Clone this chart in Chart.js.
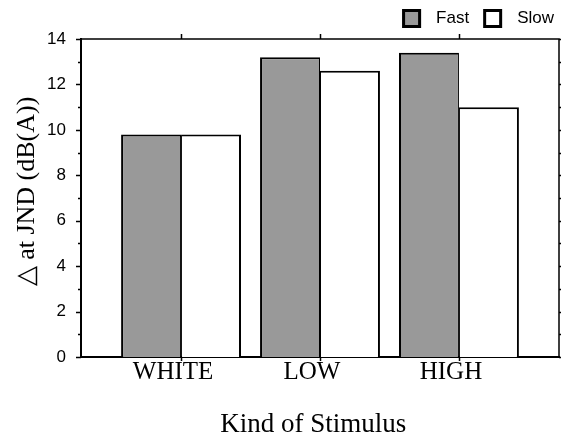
<!DOCTYPE html>
<html lang="en">
<head>
  <meta charset="UTF-8">
  <title>JND by stimulus</title>
  <script src="https://cdn.jsdelivr.net/npm/chart.js"></script>
  <style>
    body { margin: 0; background: #fff; }
    .grafico { width: 561px; height: 437px; }
  </style>
</head>
<body>
  <div class="grafico"><canvas id="id_grafico"></canvas></div>

  <script>
    // dados
    const categorias = ['WHITE', 'LOW', 'HIGH'];
    const posicoes = [1, 2, 3];
    const series = ['Fast', 'Slow'];
    const valoresFast = [9.8, 13.2, 13.4];
    const valoresSlow = [9.8, 12.6, 11.0];
    const yMin = 0;
    const yMax = 14;

    const serif = 'Liberation Serif';
    const sans = 'Liberation Sans';

    // moldura, ticks e legenda
    const moldura = {
      id: 'moldura',
      afterDraw(chart) {
        const ctx = chart.ctx;
        const a = chart.chartArea;
        const xs = chart.scales.x;
        const ys = chart.scales.y;
        ctx.save();
        ctx.strokeStyle = '#000';

        ctx.lineWidth = 1.5;
        ctx.beginPath();
        ctx.moveTo(a.left, a.top);
        ctx.lineTo(a.right, a.top);
        ctx.lineTo(a.right, a.bottom);
        ctx.stroke();

        ys.ticks.forEach(t => {
          const y = Math.round(ys.getPixelForValue(t.value)) + 0.5;
          const len = t.value % 2 === 0 ? 5 : 3;
          ctx.beginPath();
          ctx.moveTo(a.left - len, y);
          ctx.lineTo(a.left, y);
          ctx.moveTo(a.right, y);
          ctx.lineTo(a.right + 3, y);
          ctx.stroke();
        });
        xs.ticks.forEach(t => {
          const x = Math.round(xs.getPixelForValue(t.value)) + 0.5;
          ctx.beginPath();
          ctx.moveTo(x, a.top - 5);
          ctx.lineTo(x, a.top);
          ctx.moveTo(x, a.bottom);
          ctx.lineTo(x, a.bottom + 4);
          ctx.stroke();
        });

        // legenda
        ctx.font = '17px "' + sans + '"';
        ctx.textBaseline = 'middle';
        const caixa = 19, gapTxt = 15, gapItem = 14;
        const ds = chart.data.datasets;
        let total = 0;
        ds.forEach((d, i) => {
          total += caixa + gapTxt + ctx.measureText(d.label).width + (i < ds.length - 1 ? gapItem : 0);
        });
        let x = chart.width - 7 - total;
        const yc = 18.5;
        ds.forEach(d => {
          ctx.fillStyle = d.backgroundColor;
          ctx.fillRect(x, yc - caixa / 2, caixa, caixa);
          ctx.lineWidth = 3;
          ctx.strokeRect(x + 1.5, yc - caixa / 2 + 1.5, caixa - 3, caixa - 3);
          ctx.fillStyle = '#000';
          ctx.fillText(d.label, x + caixa + gapTxt, yc);
          x += caixa + gapTxt + ctx.measureText(d.label).width + gapItem;
        });
        ctx.restore();
      }
    };

    const ctx = document.getElementById('id_grafico').getContext('2d');
    const grafico = new Chart(ctx, {
      type: 'bar',
      data: {
        datasets: [
          {
            label: series[0],
            data: posicoes.map((p, i) => ({ x: p, y: valoresFast[i] })),
            backgroundColor: '#999999',
            borderColor: '#000',
            borderWidth: { top: 2, left: 2, right: 1, bottom: 0 }
          },
          {
            label: series[1],
            data: posicoes.map((p, i) => ({ x: p, y: valoresSlow[i] })),
            backgroundColor: '#ffffff',
            borderColor: '#000',
            borderWidth: { top: 2, left: 1, right: 2, bottom: 0 }
          }
        ]
      },
      options: {
        responsive: true,
        maintainAspectRatio: false,
        animation: false,
        categoryPercentage: 0.863,
        barPercentage: 1,
        layout: { padding: { top: 39, right: 2, left: 0, bottom: 0 } },
        plugins: {
          legend: { display: false },
          tooltip: { enabled: false }
        },
        scales: {
          x: {
            type: 'linear',
            min: 1 - 0.72,
            max: 3 + 0.72,
            offset: false,
            grid: { display: false, drawTicks: false, offset: false },
            border: { display: true, color: '#000', width: 2 },
            afterBuildTicks: s => { s.ticks = posicoes.map(v => ({ value: v })); },
            afterFit: s => { s.height = 80; },
            ticks: {
              autoSkip: false,
              maxRotation: 0,
              padding: 0,
              labelOffset: -8,
              color: '#000',
              font: { family: serif, size: 25 },
              callback: v => categorias[posicoes.indexOf(v)] ?? ''
            },
            title: {
              display: true,
              text: 'Kind of Stimulus  ',
              color: '#000',
              font: { family: serif, size: 27 },
              padding: { top: 0, bottom: -4 }
            }
          },
          y: {
            min: yMin,
            max: yMax,
            grid: { display: false, drawTicks: true, tickLength: 5 },
            border: { display: true, color: '#000', width: 2 },
            afterFit: s => { s.width = 81; },
            ticks: {
              stepSize: 1,
              autoSkip: false,
              padding: 10,
              color: '#000',
              font: { family: sans, size: 17 },
              callback: v => v % 2 === 0 ? v : ''
            },
            title: {
              display: true,
              text: '  \u25B3 at JND (dB(A))',
              color: '#000',
              font: { family: serif, size: 26 },
              padding: { top: 12, bottom: 0 }
            }
          }
        }
      },
      plugins: [moldura]
    });
  </script>
</body>
</html>
